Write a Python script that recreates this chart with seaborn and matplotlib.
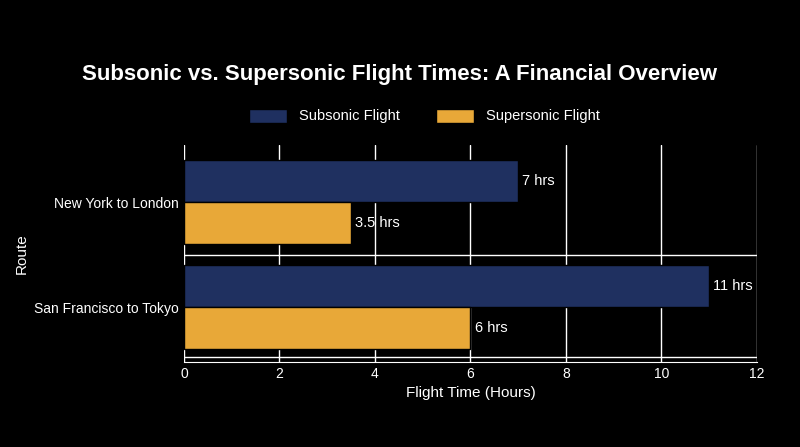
import matplotlib
matplotlib.use("Agg")
import matplotlib.pyplot as plt
import seaborn as sns
import pandas as pd

routes = ["New York to London", "San Francisco to Tokyo"]
subsonic = [7, 11]
supersonic = [3.5, 6]
labels_sub = ["7 hrs", "11 hrs"]
labels_sup = ["3.5 hrs", "6 hrs"]

df = pd.DataFrame({
    "Route": routes * 2,
    "Hours": subsonic + supersonic,
    "Type": ["Subsonic Flight"] * 2 + ["Supersonic Flight"] * 2,
})

sns.set_style("dark")
plt.rcParams['font.family'] = ['Liberation Sans', 'DejaVu Sans']
fig = plt.figure(figsize=(8, 4.47), dpi=100, facecolor="black")
ax = fig.add_axes([0.23, 0.19, 0.716, 0.485], facecolor="black")
sns.barplot(data=df, y="Route", x="Hours", hue="Type", orient="h",
            palette=["#1f3060", "#e8a838"], saturation=1, edgecolor="black", linewidth=1,
            width=0.8, ax=ax, zorder=3)
ax.set_xlim(0, 12)
ax.set_ylim(1.52, -0.54)
ax.set_xticks(range(0, 13, 2))
ax.grid(axis="x", color="white", linewidth=1, zorder=0)
ax.grid(axis="y", visible=False)
for yv in [0.5, 1.47]:
    ax.axhline(yv, color="white", linewidth=1, zorder=1)
for s in ax.spines.values():
    s.set_visible(False)
ax.spines["bottom"].set_visible(True)
ax.spines["bottom"].set_color("white")
ax.tick_params(colors="white", labelsize=10, length=0)
ax.set_xlabel("Flight Time (Hours)", color="white", fontsize=11)
ax.set_ylabel("Route", color="white", fontsize=11)
for cont, labs in zip(ax.containers, [labels_sub, labels_sup]):
    ax.bar_label(cont, labels=labs, padding=3, color="white", fontsize=10.5)
leg = ax.legend(loc="lower center", bbox_to_anchor=(0.42, 1.04), ncol=2,
                frameon=False, fontsize=10.5, handlelength=2.6, handleheight=1.1,
                columnspacing=2.5)
for t in leg.get_texts():
    t.set_color("white")
fig.text(0.5, 0.82, "Subsonic vs. Supersonic Flight Times: A Financial Overview",
         ha="center", color="white", fontsize=16, fontweight="bold")
fig.savefig("out.png", facecolor="black")
